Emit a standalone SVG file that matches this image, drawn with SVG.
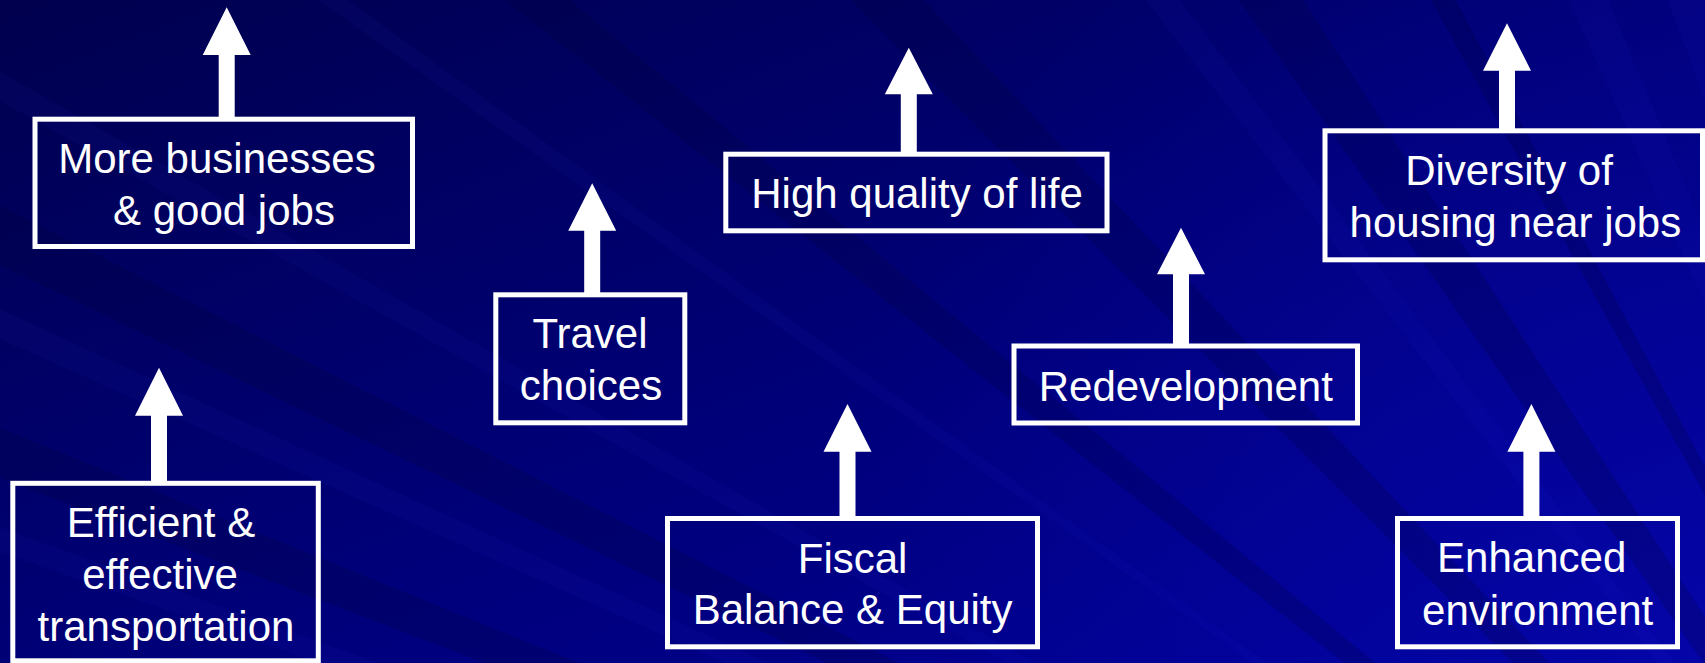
<svg xmlns="http://www.w3.org/2000/svg" width="1705" height="663" viewBox="0 0 1705 663">
  <defs>
    <linearGradient id="bg" x1="0" y1="0" x2="1" y2="1">
      <stop offset="0" stop-color="#00004e"/>
      <stop offset="0.45" stop-color="#000072"/>
      <stop offset="1" stop-color="#00009c"/>
    </linearGradient>
    <radialGradient id="glow" cx="1705" cy="663" r="900" gradientUnits="userSpaceOnUse">
      <stop offset="0" stop-color="#0a0ab4" stop-opacity="0.5"/>
      <stop offset="1" stop-color="#0a0ab4" stop-opacity="0"/>
    </radialGradient>
    <style>
      .box { fill: none; stroke: #ffffff; stroke-width: 5; }
      .lbl { font-family: "Liberation Sans", Arial, sans-serif; font-size: 42px; fill: #ffffff; text-anchor: middle; }
      .arrow { fill: #ffffff; stroke: none; }
      .lt { fill: #3a3aff; opacity: 0.05; }
      .dk { fill: #000030; opacity: 0.2; }
    </style>
  </defs>

  <g id="background">
    <rect x="0" y="0" width="1705" height="663" fill="url(#bg)"/>
    <rect x="0" y="0" width="1705" height="663" fill="url(#glow)"/>
    <polygon class="dk" points="2150,1300 480,-20 545,-20"/>
    <polygon class="dk" points="2150,1300 830,-20 905,-20"/>
    <polygon class="dk" points="2150,1300 1225,-20 1290,-20"/>
    <polygon class="dk" points="2150,1300 -20,195 -20,255"/>
    <polygon class="dk" points="2150,1300 -20,420 -20,470"/>
    <polygon class="dk" points="2150,1300 1420,-20 1445,-20"/>
    <polygon class="lt" points="2150,1300 1130,-20 1165,-20"/>
    <polygon class="lt" points="2150,1300 1560,-20 1600,-20"/>
    <polygon class="lt" points="2150,1300 1660,-20 1705,-20"/>
    <polygon class="lt" points="2150,1300 -20,300 -20,330"/>
    <polygon class="lt" points="2150,1300 -20,520 -20,545"/>
    <polygon class="lt" points="2150,1300 290,-20 320,-20"/>
    <polygon class="lt" points="2150,1300 -20,60 -20,90"/>
  </g>

  <g id="connectors">
    <polygon class="arrow" points="226.7,7.3 250.7,55 234.7,55 234.7,119 218.7,119 218.7,55 202.7,55"/>
    <polygon class="arrow" points="159,367.7 183,415.7 167,415.7 167,483 151,483 151,415.7 135,415.7"/>
    <polygon class="arrow" points="908.8,47.7 932.8,94.3 916.8,94.3 916.8,154 900.8,154 900.8,94.3 884.8,94.3"/>
    <polygon class="arrow" points="592.2,183.3 616.2,230.7 600.2,230.7 600.2,295 584.2,295 584.2,230.7 568.2,230.7"/>
    <polygon class="arrow" points="847.5,404 871.5,451.7 855.5,451.7 855.5,518 839.5,518 839.5,451.7 823.5,451.7"/>
    <polygon class="arrow" points="1181,227.7 1205,274.3 1189,274.3 1189,346 1173,346 1173,274.3 1157,274.3"/>
    <polygon class="arrow" points="1507,23.3 1531,70.7 1515,70.7 1515,131 1499,131 1499,70.7 1483,70.7"/>
    <polygon class="arrow" points="1531.4,404 1555.4,451.7 1539.4,451.7 1539.4,518 1523.4,518 1523.4,451.7 1507.4,451.7"/>
  </g>

  <g id="node-businesses">
    <rect class="box" x="35" y="119.2" width="377.5" height="127.3"/>
    <text class="lbl" x="217" y="173">More businesses</text>
    <text class="lbl" x="224" y="225">&amp; good jobs</text>
  </g>

  <g id="node-transportation">
    <rect class="box" x="12.8" y="483.3" width="305.5" height="177.5"/>
    <text class="lbl" x="161" y="537">Efficient &amp;</text>
    <text class="lbl" x="160" y="589">effective</text>
    <text class="lbl" x="166" y="641">transportation</text>
  </g>

  <g id="node-quality">
    <rect class="box" x="725.8" y="154.2" width="381.2" height="76.6"/>
    <text class="lbl" x="917" y="208">High quality of life</text>
  </g>

  <g id="node-travel">
    <rect class="box" x="495.8" y="294.8" width="189" height="128"/>
    <text class="lbl" x="590" y="347.7">Travel</text>
    <text class="lbl" x="591" y="400">choices</text>
  </g>

  <g id="node-fiscal">
    <rect class="box" x="667.5" y="518.5" width="370" height="128.3"/>
    <text class="lbl" x="852.6" y="572.7">Fiscal</text>
    <text class="lbl" x="852.6" y="624">Balance &amp; Equity</text>
  </g>

  <g id="node-redevelopment">
    <rect class="box" x="1014" y="346" width="343.5" height="77"/>
    <text class="lbl" x="1185.8" y="400.5">Redevelopment</text>
  </g>

  <g id="node-housing">
    <rect class="box" x="1325" y="130.8" width="377.5" height="129"/>
    <text class="lbl" x="1509" y="185">Diversity of</text>
    <text class="lbl" x="1515.4" y="236.7">housing near jobs</text>
  </g>

  <g id="node-environment">
    <rect class="box" x="1397.5" y="518.5" width="280" height="128.3"/>
    <text class="lbl" x="1531.7" y="572.3">Enhanced</text>
    <text class="lbl" x="1537.6" y="625">environment</text>
  </g>
</svg>
